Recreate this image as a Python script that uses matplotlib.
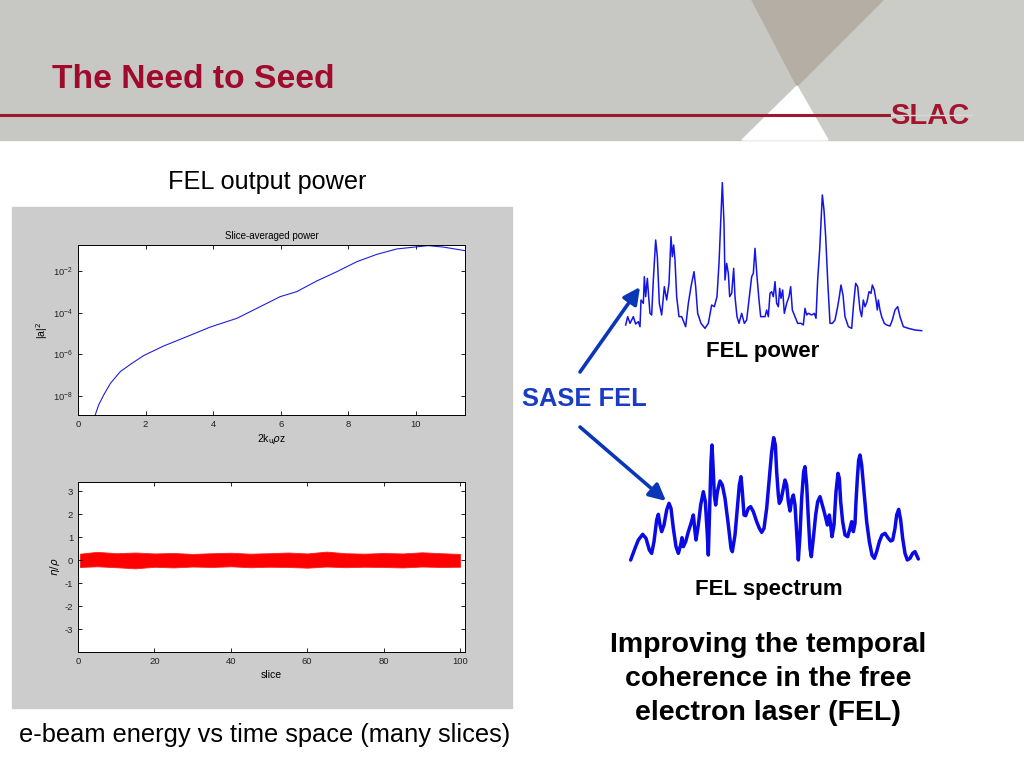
import numpy as np
import matplotlib.pyplot as plt
from matplotlib.patches import Polygon, Rectangle

plt.rcParams['font.family'] = ['Liberation Sans', 'DejaVu Sans']
plt.rcParams['mathtext.fontset'] = 'dejavusans'
plt.rcParams['axes.unicode_minus'] = False

W, H = 1024, 768

# slice-averaged power (upper MATLAB panel), log10 of |a|^2
z_vals = [0.51, 0.61, 0.76, 0.96, 1.25, 1.55, 1.94, 2.53, 3.22, 3.91, 4.70, 5.39,
          5.98, 6.47, 7.06, 7.66, 8.25, 8.84, 9.43, 10.07, 10.36, 10.81, 11.45]
power_log10 = [-8.91, -8.43, -7.95, -7.39, -6.83, -6.48, -6.06, -5.60, -5.15, -4.69, -4.27, -3.71,
               -3.23, -2.99, -2.48, -2.03, -1.55, -1.20, -0.94, -0.83, -0.78, -0.85, -1.02]

# energy spread band (lower MATLAB panel)
slice_pos = [0.5, 5, 10, 15, 20, 25, 30, 35, 40, 45, 50, 55, 60, 65, 70, 75, 80, 85, 90, 95, 100]
band_upper = [0.28, 0.36, 0.30, 0.33, 0.29, 0.31, 0.27, 0.30, 0.32, 0.28, 0.30, 0.33, 0.29,
              0.37, 0.30, 0.28, 0.31, 0.29, 0.34, 0.30, 0.27]
band_lower = [-0.30, -0.27, -0.31, -0.36, -0.29, -0.32, -0.28, -0.30, -0.27, -0.31, -0.29, -0.30,
              -0.33, -0.28, -0.31, -0.29, -0.30, -0.32, -0.28, -0.30, -0.29]

# FEL power (temporal profile), arbitrary units
pulse_t = [32, 38, 45, 55, 62, 70, 75, 78, 85, 88, 92, 97, 101, 105, 110, 115, 122, 127, 133, 140,
           148, 155, 162, 168, 172, 176, 180, 185, 192, 200, 212, 220, 228, 237, 242, 248, 258, 270,
           280, 290, 298, 306, 312, 317, 322, 327, 330, 335, 340, 344, 350, 356, 360, 366, 372, 380,
           388, 395, 403, 410, 415, 420, 426, 432, 437, 443, 450, 455, 460, 465, 470, 475, 480, 485,
           490, 494, 498, 503, 508, 515, 522, 527, 532, 540, 548, 558, 565, 570, 575, 580, 590, 598,
           603, 608, 614, 618, 622, 627, 632, 638, 645, 652, 660, 668, 673, 678, 684, 690, 700, 710,
           716, 722, 728, 735, 740, 745, 750, 756, 762, 768, 772, 778, 783, 787, 790, 795, 800, 808,
           815, 825, 832, 840, 848, 855, 865, 880, 900, 920]
pulse_p = [25, 50, 30, 50, 28, 35, 20, 100, 90, 170, 110, 165, 110, 60, 55, 160, 280, 230, 90, 55,
           140, 100, 150, 290, 230, 265, 220, 110, 50, 50, 20, 90, 140, 185, 140, 60, 30, 15,
           30, 85, 80, 110, 210, 330, 452, 330, 160, 210, 180, 110, 120, 195, 110, 50, 30, 60,
           30, 40, 110, 170, 180, 255, 170, 100, 50, 50, 50, 70, 50, 120, 125, 110, 155, 90,
           80, 135, 105, 130, 60, 90, 110, 140, 70, 50, 30, 30, 25, 75, 55, 60, 55, 60,
           45, 160, 250, 330, 415, 370, 290, 160, 30, 30, 40, 80, 110, 145, 115, 50, 20, 15,
           90, 150, 140, 70, 50, 100, 80, 95, 125, 120, 145, 130, 100, 70, 100, 70, 50, 30,
           25, 22, 40, 70, 80, 50, 20, 15, 10, 8]

# FEL spectrum, arbitrary units
spec_f = [32, 45, 55, 68, 78, 88, 95, 102, 110, 115, 120, 125, 132, 140, 147, 153, 160, 168, 175,
          182, 186, 190, 197, 205, 213, 220, 225, 228, 235, 242, 250, 256, 262, 265, 269, 273, 276,
          279, 283, 287, 292, 300, 307, 315, 325, 333, 337, 345, 352, 358, 363, 367, 372, 377, 385,
          392, 400, 410, 418, 425, 432, 440, 448, 455, 461, 466, 470, 475, 478, 483, 490, 495, 500,
          505, 510, 515, 520, 525, 530, 535, 540, 545, 551, 555, 560, 565, 570, 574, 580, 587, 593,
          600, 607, 615, 622, 628, 632, 636, 642, 648, 654, 658, 662, 668, 675, 683, 690, 695, 700,
          705, 708, 712, 716, 720, 725, 732, 740, 748, 756, 763, 770, 778, 786, 795, 805, 812, 818,
          825, 830, 836, 842, 848, 855, 862, 870, 878, 885, 892, 895]
spec_i = [15, 50, 75, 92, 80, 45, 35, 70, 135, 152, 120, 100, 120, 165, 185, 170, 110, 55, 35,
          60, 82, 55, 70, 100, 125, 150, 100, 75, 120, 180, 220, 190, 90, 30, 170, 310, 360,
          300, 210, 180, 220, 252, 240, 200, 120, 50, 40, 90, 170, 240, 265, 220, 150, 148, 170,
          175, 160, 130, 110, 98, 110, 170, 260, 340, 382, 360, 280, 210, 185, 195, 230, 255, 240,
          190, 162, 195, 210, 180, 100, 15, 90, 200, 280, 295, 240, 140, 50, 25, 80, 150, 190,
          205, 180, 150, 120, 150, 120, 85, 120, 220, 275, 260, 190, 130, 90, 85, 110, 130, 100,
          125, 190, 260, 315, 330, 300, 220, 130, 70, 30, 20, 40, 70, 90, 95, 80, 72, 75,
          110, 150, 167, 135, 80, 35, 15, 20, 35, 40, 25, 18]


def box(l, t, r, b):
    # pixel box (top-left origin) -> figure fraction
    return [l / W, 1 - b / H, (r - l) / W, (b - t) / H]


fig = plt.figure(figsize=(W / 100, H / 100), dpi=100)
fig.patch.set_facecolor('white')

# background / slide decoration layer in pixel units
bg = fig.add_axes([0, 0, 1, 1])
bg.set_xlim(0, W)
bg.set_ylim(H, 0)
bg.axis('off')

hdr = '#c7c7c3'
bg.add_patch(Rectangle((0, 0), W, 140, color=hdr, zorder=0))
bg.add_patch(Polygon([(883, 0), (797, 86), (828, 140), (W, 140), (W, 0)], closed=True,
                     color='#cbcbc7', zorder=0))
bg.add_patch(Polygon([(752, 0), (883, 0), (797, 86)], closed=True, color='#b4aea4', zorder=1))
bg.add_patch(Polygon([(797, 86), (742, 140), (828, 140)], closed=True, color='white', zorder=1))
bg.plot([0, 889], [115, 115], color='#9b1a30', lw=2.2, zorder=2)
bg.text(52, 80, 'The Need to Seed', color='#a00a2c', fontsize=24.2, fontweight='bold',
        ha='left', va='center', zorder=3)
bg.text(930, 116, 'SLAC', color='#a3142e', fontsize=21, fontweight='heavy',
        ha='center', va='center', zorder=3)
bg.plot([891, 972], [115, 115], color='#d8d8d4', lw=1.0, zorder=4)

# MATLAB screenshot panel
bg.add_patch(Rectangle((12, 207), 500, 501, color='#cccccc', zorder=0))

bg.text(267, 182, 'FEL output power', fontsize=18.2, ha='center', va='center')
bg.text(265, 735, 'e-beam energy vs time space (many slices)', fontsize=18.3,
        ha='center', va='center')
bg.text(584, 399, 'SASE FEL', fontsize=18.4, fontweight='bold', color='#1a3cc4',
        ha='center', va='center')
bg.text(763, 351, 'FEL power', fontsize=16, fontweight='bold', ha='center', va='center')
bg.text(769, 589, 'FEL spectrum', fontsize=16, fontweight='bold', ha='center', va='center')
bg.text(768, 679, 'Improving the temporal\ncoherence in the free\nelectron laser (FEL)',
        fontsize=20.5, fontweight='bold', ha='center', va='center', linespacing=1.4)

arrow_kw = dict(arrowstyle='-|>,head_length=1.0,head_width=0.5', color='#0a37b8', lw=2.6,
                shrinkA=0, shrinkB=0)
bg.annotate('', xy=(640, 287), xytext=(580, 372), arrowprops=arrow_kw)
bg.annotate('', xy=(666, 501), xytext=(580, 427), arrowprops=arrow_kw)

# upper MATLAB panel: slice-averaged power
tick_kw = dict(direction='in', length=3, width=0.6, labelsize=6.8, top=True, right=True,
               colors='black', labelcolor='#222222')
ax1 = fig.add_axes(box(78, 245, 465, 415))
ax1.plot(z_vals, 10 ** np.array(power_log10), color='#1f1fe0', lw=0.8)
ax1.set_yscale('log')
ax1.set_xlim(0, 11.45)
ax1.set_ylim(10 ** -8.91, 10 ** -0.75)
ax1.set_xticks([0, 2, 4, 6, 8, 10])
ax1.set_yticks([1e-8, 1e-6, 1e-4, 1e-2])
ax1.minorticks_off()
ax1.tick_params(**tick_kw)
ax1.set_title('Slice-averaged power', fontsize=7, pad=4)
ax1.set_xlabel(r'2k$_{\rm u}$$\rho$z', fontsize=7.5, labelpad=2)
ax1.set_ylabel(r'|a|$^2$', fontsize=7.5, labelpad=2)
for s in ax1.spines.values():
    s.set_linewidth(0.7)

# lower MATLAB panel: energy vs slice
ax2 = fig.add_axes(box(78, 482, 465, 652))
ax2.fill_between(slice_pos, band_lower, band_upper, color='#ff0000', lw=0.6, edgecolor='#ff2020')
ax2.set_xlim(0, 101.3)
ax2.set_ylim(-4.0, 3.4)
ax2.set_xticks([0, 20, 40, 60, 80, 100])
ax2.set_yticks([-3, -2, -1, 0, 1, 2, 3])
ax2.tick_params(**tick_kw)
ax2.set_xlabel('slice', fontsize=7.5, labelpad=3)
ax2.set_ylabel(r'$\eta/\rho$', fontsize=7.5, labelpad=2)
for s in ax2.spines.values():
    s.set_linewidth(0.7)

# FEL power sketch
ax3 = fig.add_axes(box(615, 170, 955, 340))
ax3.plot(pulse_t, pulse_p, color='#1414e6', lw=1.1)
ax3.set_xlim(0, 1020)
ax3.set_ylim(-20, 490)
ax3.axis('off')

# FEL spectrum sketch
ax4 = fig.add_axes(box(620, 425, 930, 575))
ax4.plot(spec_f, spec_i, color='#0a0ae6', lw=2.5, solid_capstyle='round', solid_joinstyle='round')
ax4.set_xlim(0, 930)
ax4.set_ylim(-30, 420)
ax4.axis('off')

fig.savefig('out.png', dpi=100)
